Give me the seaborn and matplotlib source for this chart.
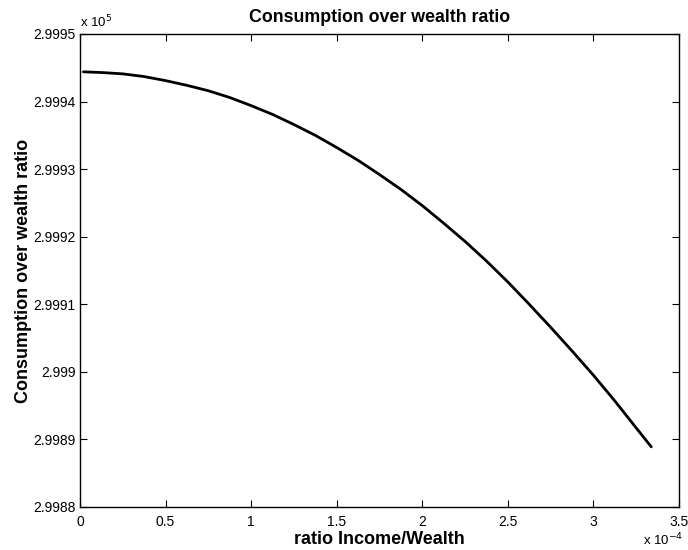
import matplotlib
matplotlib.use("Agg")
import matplotlib.pyplot as plt
import seaborn as sns
import pandas as pd

# Income/wealth ratio (units of 1e-4) and consumption over wealth (units of 1e5)
ratio_income_wealth = [0.02, 0.125, 0.25, 0.375, 0.5, 0.625, 0.75, 0.875,
                       1.0, 1.125, 1.25, 1.375, 1.5, 1.625, 1.75, 1.875,
                       2.0, 2.125, 2.25, 2.375, 2.5, 2.625, 2.75, 2.875,
                       3.0, 3.125, 3.25, 3.338]
consumption_wealth = [2.999444, 2.999443, 2.999441, 2.999437, 2.999431,
                      2.999424, 2.999416, 2.999406, 2.999394, 2.999381,
                      2.999366, 2.999350, 2.999332, 2.999313, 2.999292,
                      2.999270, 2.999246, 2.999220, 2.999193, 2.999164,
                      2.999133, 2.999100, 2.999066, 2.999031, 2.998995,
                      2.998957, 2.998917, 2.998889]
x_ticks = [0, 0.5, 1, 1.5, 2, 2.5, 3, 3.5]
x_tick_labels = ["0", "0.5", "1", "1.5", "2", "2.5", "3", "3.5"]
y_ticks = [2.9988, 2.9989, 2.999, 2.9991, 2.9992, 2.9993, 2.9994, 2.9995]
y_tick_labels = ["2.9988", "2.9989", "2.999", "2.9991", "2.9992",
                 "2.9993", "2.9994", "2.9995"]

df = pd.DataFrame({"ratio": ratio_income_wealth, "cw": consumption_wealth})

sns.set_style("white")
plt.rcParams["font.family"] = ["Liberation Sans", "DejaVu Sans"]
plt.rcParams["text.color"] = "black"
plt.rcParams["axes.labelcolor"] = "black"

fig = plt.figure(figsize=(6.88, 5.5), dpi=100)
ax = fig.add_axes([80 / 688, 1 - 507 / 550, 599 / 688, 473 / 550])

sns.lineplot(data=df, x="ratio", y="cw", ax=ax, color="black",
             linewidth=2.0, sort=False)

ax.set_xlim(0, 3.5)
ax.set_ylim(2.9988, 2.9995)
ax.set_xticks(x_ticks)
ax.set_xticklabels(x_tick_labels)
ax.set_yticks(y_ticks)
ax.set_yticklabels(y_tick_labels)

ax.tick_params(direction="in", length=5, width=0.8, top=True, right=True,
               bottom=True, left=True, labelsize=10, colors="black", pad=3)
ax.tick_params(axis="x", pad=6)
for sp in ax.spines.values():
    sp.set_visible(True)
    sp.set_color("black")
    sp.set_linewidth(1.0)

ax.set_title("Consumption over wealth ratio", fontsize=12.8,
             fontweight="bold", pad=9, color="black")
ax.set_xlabel("ratio Income/Wealth", fontsize=13, fontweight="bold",
              labelpad=1, color="black")
ax.set_ylabel("Consumption over wealth ratio", fontsize=13,
              fontweight="bold", labelpad=1, color="black")

# scale factors for the axes
fig.text(80 / 688, 1 - 22 / 550, r"x 10$^{5}$", fontsize=9.5,
         ha="left", va="center")
fig.text(643 / 688, 1 - 540 / 550, r"x 10$^{-4}$", fontsize=9.5,
         ha="left", va="center")

fig.savefig("out.png", dpi=100)
